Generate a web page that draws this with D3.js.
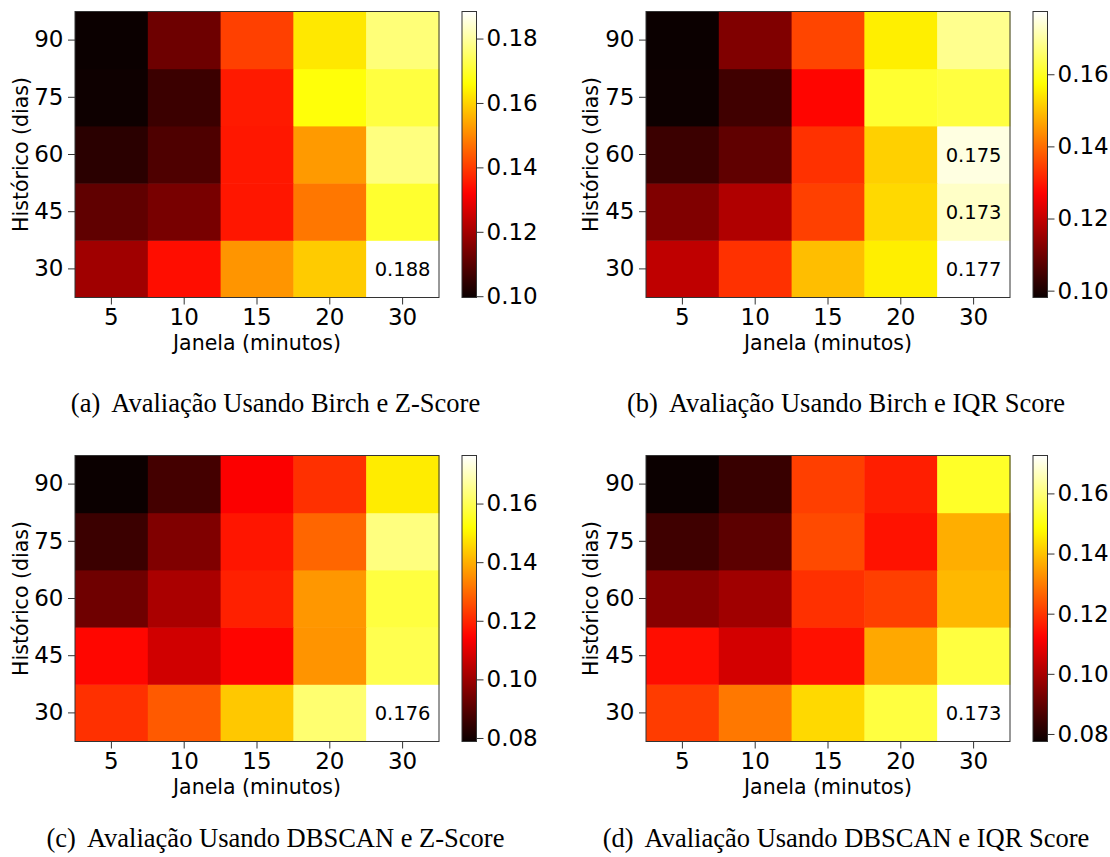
<!DOCTYPE html>
<html>
<head>
<meta charset="utf-8">
<script src="https://cdn.jsdelivr.net/npm/d3@7"></script>
<style>
  html, body { margin: 0; padding: 0; background: #fff; }
  svg { display: block; }
</style>
</head>
<body>
<svg id="chart" width="1110" height="857"></svg>
<script>
// ---- data ----
const janela = ["5", "10", "15", "20", "30"];          // x categories (minutos)
const historico = ["30", "45", "60", "75", "90"];      // y categories (dias), bottom to top
const yTicks = ["90", "75", "60", "45", "30"];

// rows follow `historico` order (30, 45, 60, 75, 90), columns follow `janela`
const birchZ = [
  [0.1194, 0.1337, 0.1518, 0.1590, 0.1884],
  [0.1109, 0.1141, 0.1349, 0.1478, 0.1700],
  [0.1038, 0.1085, 0.1351, 0.1524, 0.1771],
  [0.1000, 0.1060, 0.1355, 0.1666, 0.1715],
  [0.0996, 0.1127, 0.1405, 0.1628, 0.1765]
];
const birchIQR = [
  [0.1195, 0.1328, 0.1496, 0.1554, 0.1774],
  [0.1120, 0.1177, 0.1346, 0.1527, 0.1730],
  [0.1038, 0.1082, 0.1328, 0.1517, 0.1750],
  [0.0984, 0.1044, 0.1277, 0.1611, 0.1623],
  [0.0981, 0.1120, 0.1352, 0.1554, 0.1685]
];
const dbscanZ = [
  [0.1215, 0.1276, 0.1436, 0.1625, 0.1764],
  [0.1153, 0.1076, 0.1150, 0.1360, 0.1593],
  [0.0935, 0.1020, 0.1191, 0.1364, 0.1578],
  [0.0858, 0.0959, 0.1175, 0.1293, 0.1640],
  [0.0788, 0.0872, 0.1140, 0.1215, 0.1488]
];
const dbscanIQR = [
  [0.1208, 0.1293, 0.1430, 0.1545, 0.1726],
  [0.1140, 0.1060, 0.1145, 0.1361, 0.1545],
  [0.0953, 0.0987, 0.1190, 0.1212, 0.1384],
  [0.0850, 0.0890, 0.1227, 0.1148, 0.1370],
  [0.0775, 0.0840, 0.1212, 0.1165, 0.1522]
];
// annotated cells: [historico, janela]
const annotA = [["30", "30"]];
const annotB = [["30", "30"], ["45", "30"], ["60", "30"]];
const annotC = [["30", "30"]];
const annotD = [["30", "30"]];

const cbTicksA = [0.10, 0.12, 0.14, 0.16, 0.18];
const cbTicksB = [0.10, 0.12, 0.14, 0.16];
const cbTicksC = [0.08, 0.10, 0.12, 0.14, 0.16];
const cbTicksD = [0.08, 0.10, 0.12, 0.14, 0.16];

const captionTags = ["(a)", "(b)", "(c)", "(d)"];
const captions = [
  "Avaliação Usando Birch e Z-Score",
  "Avaliação Usando Birch e IQR Score",
  "Avaliação Usando DBSCAN e Z-Score",
  "Avaliação Usando DBSCAN e IQR Score"
];
const xLabel = "Janela (minutos)";
const yLabel = "Histórico (dias)";

// ---- matplotlib "hot" colormap ----
function interpolateHot(t) {
  t = Math.max(0, Math.min(1, t));
  const r = t < 0.365079 ? 0.0416 + (1 - 0.0416) * t / 0.365079 : 1;
  const g = t < 0.365079 ? 0 : (t < 0.746032 ? (t - 0.365079) / (0.746032 - 0.365079) : 1);
  const b = t < 0.746032 ? 0 : (t - 0.746032) / (1 - 0.746032);
  return d3.rgb(r * 255, g * 255, b * 255).formatHex();
}

// ---- layout ----
const W = 364, H = 286;
const panels = [
  { data: birchZ,   annot: annotA, ticks: cbTicksA, x: 75,  y: 11.5,  ylx: 28,  cx: 275.5, cy: 411.5 },
  { data: birchIQR, annot: annotB, ticks: cbTicksB, x: 646, y: 11.5,  ylx: 598, cx: 846,   cy: 411.5 },
  { data: dbscanZ,  annot: annotC, ticks: cbTicksC, x: 75,  y: 455.5, ylx: 28,  cx: 275.5, cy: 847 },
  { data: dbscanIQR,annot: annotD, ticks: cbTicksD, x: 646, y: 455.5, ylx: 598, cx: 846,   cy: 847 }
];

const svg = d3.select("#chart");
const defs = svg.append("defs");
const axisFont = "DejaVu Sans, sans-serif";
const spine = "#333";

panels.forEach((p, i) => {
  const g = svg.append("g").attr("transform", `translate(${p.x},${p.y})`);
  const xs = d3.scaleBand().domain(janela).range([0, W]).padding(0);
  const ys = d3.scaleBand().domain(yTicks).range([0, H]).padding(0);
  const flat = p.data.flat();
  const ext = d3.extent(flat);
  const color = d3.scaleSequential(interpolateHot).domain(ext);

  const cells = [];
  p.data.forEach((row, ri) => row.forEach((v, ci) => cells.push({ h: historico[ri], j: janela[ci], v })));

  g.selectAll("rect.cell").data(cells).join("rect")
    .attr("class", "cell")
    .attr("x", d => xs(d.j))
    .attr("y", d => ys(d.h))
    .attr("width", xs.bandwidth() + 0.5)
    .attr("height", ys.bandwidth() + 0.5)
    .attr("fill", d => color(d.v));

  // annotations
  const ann = cells.filter(c => p.annot.some(a => a[0] === c.h && a[1] === c.j));
  g.selectAll("text.ann").data(ann).join("text")
    .attr("class", "ann")
    .attr("x", d => xs(d.j) + xs.bandwidth() / 2)
    .attr("y", d => ys(d.h) + ys.bandwidth() / 2)
    .attr("dy", "0.36em")
    .attr("text-anchor", "middle")
    .attr("font-family", axisFont)
    .attr("font-size", 19.5)
    .attr("fill", "#000")
    .text(d => d3.format(".3f")(d.v));

  // frame
  g.append("rect").attr("x", 0).attr("y", 0).attr("width", W).attr("height", H)
    .attr("fill", "none").attr("stroke", spine).attr("stroke-width", 1);

  // axes
  const xAxis = g.append("g").attr("transform", `translate(0,${H})`)
    .call(d3.axisBottom(xs).tickSize(7).tickPadding(4));
  const yAxis = g.append("g")
    .call(d3.axisLeft(ys).tickSize(7).tickPadding(4.5));
  [xAxis, yAxis].forEach(a => {
    a.select(".domain").remove();
    a.selectAll(".tick line").attr("stroke", spine);
    a.selectAll(".tick text").attr("font-family", axisFont).attr("font-size", 23).attr("fill", "#000");
  });

  g.append("text")
    .attr("x", W / 2).attr("y", H + 52)
    .attr("text-anchor", "middle")
    .attr("font-family", axisFont).attr("font-size", 20.5)
    .text(xLabel);
  svg.append("text")
    .attr("transform", `translate(${p.ylx},${p.y + H / 2}) rotate(-90)`)
    .attr("text-anchor", "middle")
    .attr("font-family", axisFont).attr("font-size", 20.5)
    .text(yLabel);

  // colorbar
  const cbX = 387, cbW = 14.5;
  const gid = "hotgrad" + i;
  const grad = defs.append("linearGradient").attr("id", gid)
    .attr("x1", 0).attr("y1", 1).attr("x2", 0).attr("y2", 0);
  d3.range(0, 1.0001, 1 / 64).forEach(t => {
    grad.append("stop").attr("offset", t).attr("stop-color", interpolateHot(t));
  });
  const cs = d3.scaleLinear().domain(ext).range([H, 0]);
  const cb = g.append("g").attr("transform", `translate(${cbX},0)`);
  cb.append("rect").attr("width", cbW).attr("height", H).attr("fill", `url(#${gid})`)
    .attr("stroke", spine).attr("stroke-width", 1);
  const cbAxis = cb.append("g").attr("transform", `translate(${cbW},0)`)
    .call(d3.axisRight(cs).tickValues(p.ticks).tickFormat(d3.format(".2f")).tickSize(7).tickPadding(3));
  cbAxis.select(".domain").remove();
  cbAxis.selectAll(".tick line").attr("stroke", spine);
  cbAxis.selectAll(".tick text").attr("font-family", axisFont).attr("font-size", 23).attr("fill", "#000");

  // caption
  const cap = svg.append("text")
    .attr("x", p.cx).attr("y", p.cy)
    .attr("text-anchor", "middle")
    .attr("font-family", "Liberation Serif, Times New Roman, serif")
    .attr("font-size", 26.5)
    .attr("fill", "#000");
  cap.append("tspan").text(captionTags[i]);
  cap.append("tspan").attr("dx", 11).text(captions[i]);
});
</script>
</body>
</html>
